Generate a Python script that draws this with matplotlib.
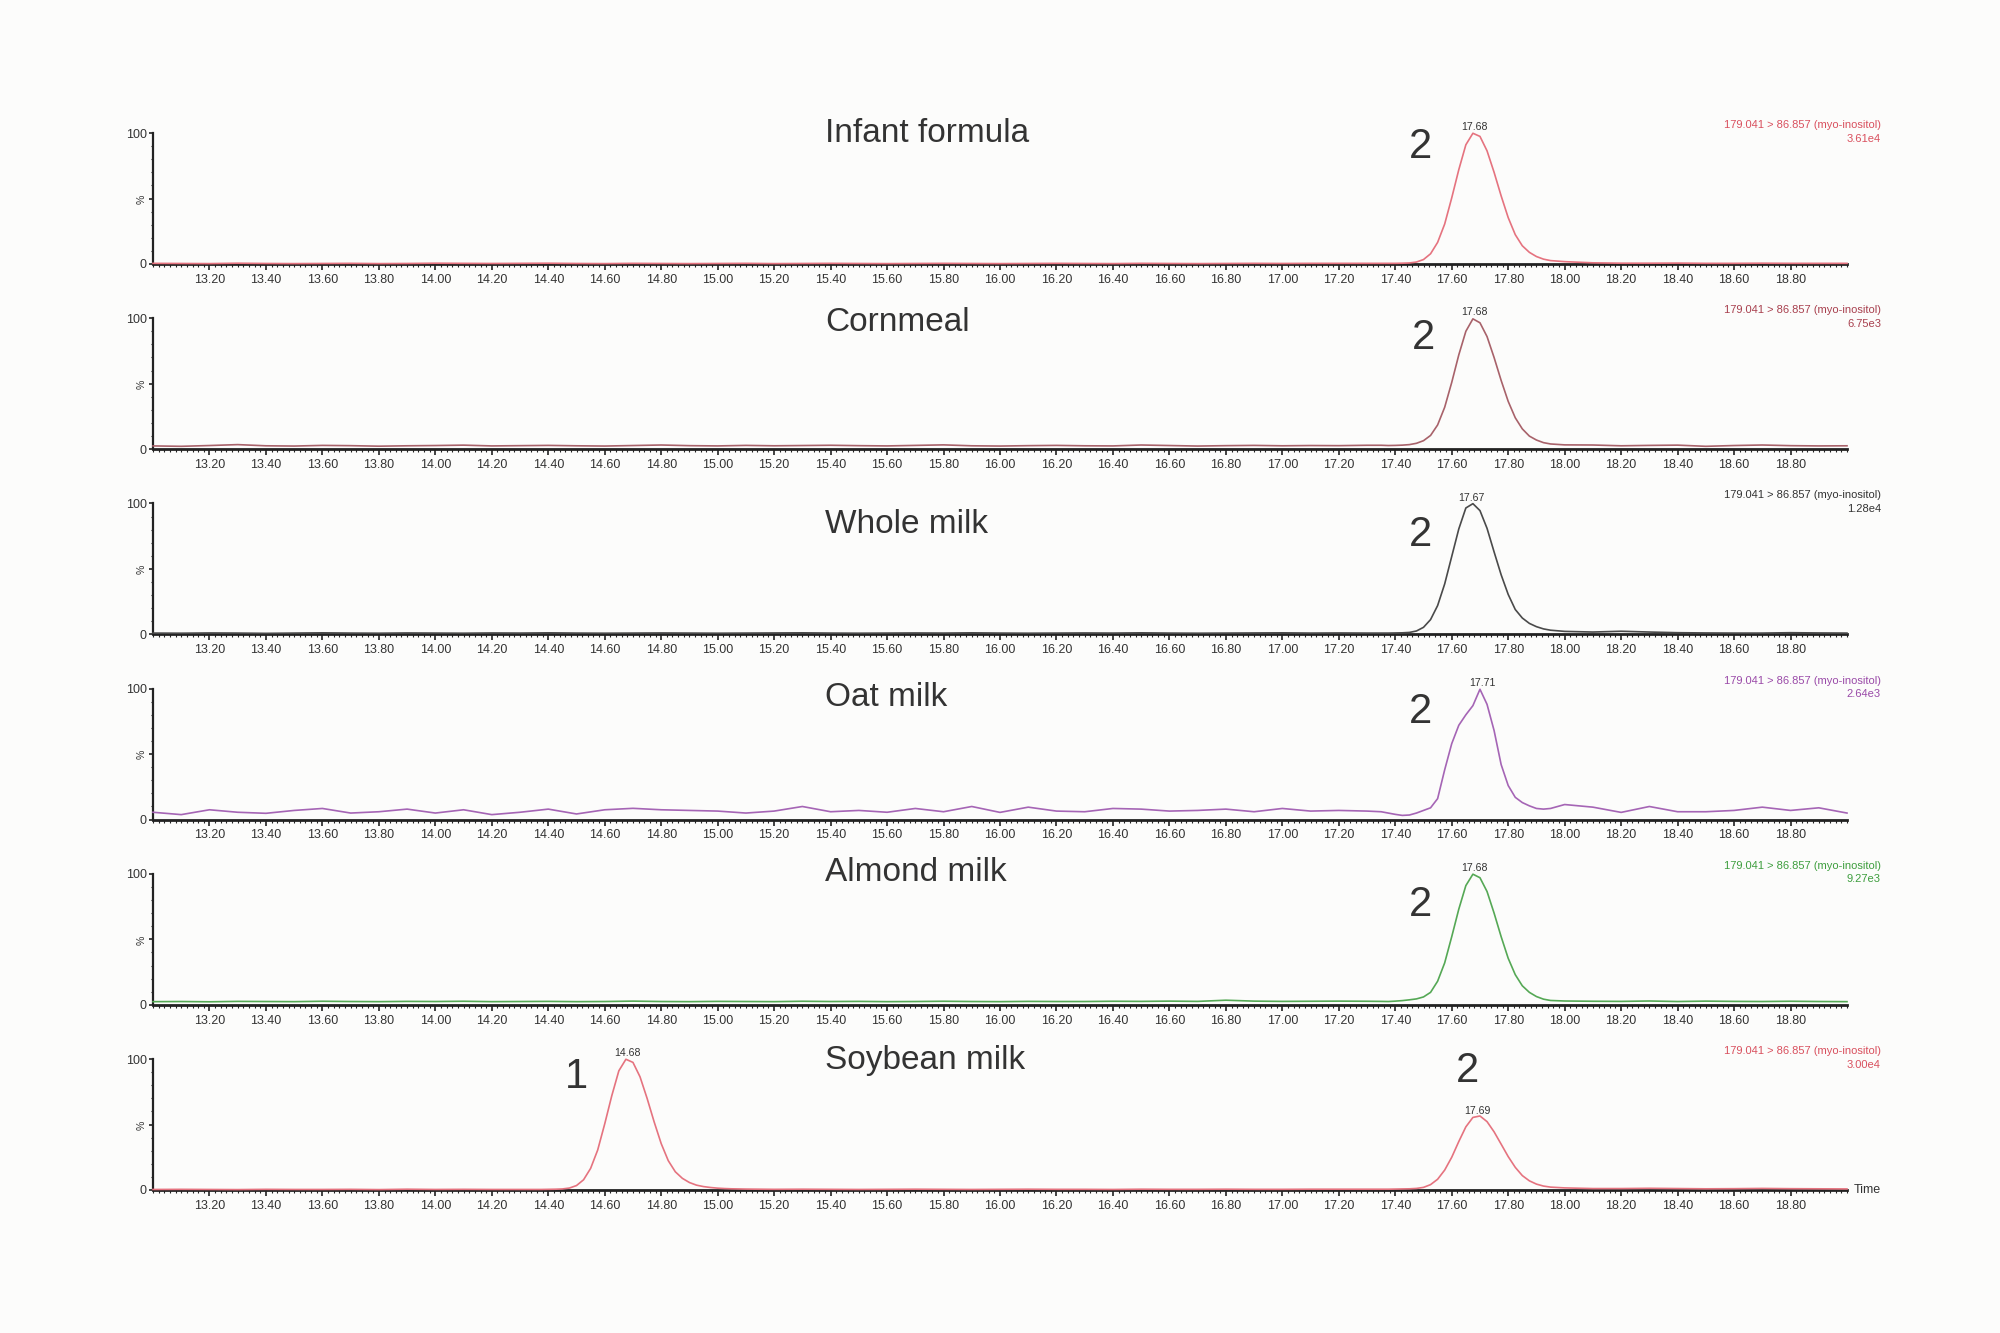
import matplotlib
matplotlib.use('Agg')
import numpy as np
import matplotlib.pyplot as plt
from matplotlib.ticker import MultipleLocator, FixedLocator, FormatStrFormatter

plt.rcParams['font.family'] = ['Liberation Sans', 'DejaVu Sans']

# retention time grid (min)
t_base = [13.0, 13.1, 13.2, 13.3, 13.4, 13.5, 13.6, 13.7, 13.8, 13.9,
          14.0, 14.1, 14.2, 14.3, 14.4, 14.5, 14.6, 14.7, 14.8, 14.9,
          15.0, 15.1, 15.2, 15.3, 15.4, 15.5, 15.6, 15.7, 15.8, 15.9,
          16.0, 16.1, 16.2, 16.3, 16.4, 16.5, 16.6, 16.7, 16.8, 16.9,
          17.0, 17.1, 17.2, 17.3]
t_peak = [17.35, 17.375, 17.4, 17.425, 17.45, 17.475, 17.5, 17.525, 17.55, 17.575,
          17.6, 17.625, 17.65, 17.675, 17.7, 17.725, 17.75, 17.775, 17.8, 17.825,
          17.85, 17.875, 17.9, 17.925, 17.95]
t_tail = [18.0, 18.1, 18.2, 18.3, 18.4, 18.5, 18.6, 18.7, 18.8, 18.9, 19.0]
t_std = t_base + t_peak + t_tail

t_soy_a = [13.0, 13.1, 13.2, 13.3, 13.4, 13.5, 13.6, 13.7, 13.8, 13.9, 14.0, 14.1, 14.2, 14.3]
t_soy_p1 = [14.35, 14.375, 14.4, 14.425, 14.45, 14.475, 14.5, 14.525, 14.55, 14.575,
            14.6, 14.625, 14.65, 14.675, 14.7, 14.725, 14.75, 14.775, 14.8, 14.825,
            14.85, 14.875, 14.9, 14.925, 14.95, 14.975, 15.0, 15.025, 15.05]
t_soy_mid = [15.1, 15.2, 15.3, 15.4, 15.5, 15.6, 15.7, 15.8, 15.9, 16.0,
             16.1, 16.2, 16.3, 16.4, 16.5, 16.6, 16.7, 16.8, 16.9, 17.0,
             17.1, 17.2, 17.3]
t_soy = t_soy_a + t_soy_p1 + t_soy_mid + t_peak + t_tail

# relative intensity (%)
infant_y = ([0.5, 0.4, 0.3, 0.6, 0.4, 0.3, 0.4, 0.5, 0.3, 0.4,
             0.6, 0.5, 0.4, 0.5, 0.6, 0.4, 0.3, 0.5, 0.4, 0.3,
             0.4, 0.5, 0.3, 0.4, 0.5, 0.4, 0.3, 0.4, 0.5, 0.4,
             0.3, 0.4, 0.5, 0.4, 0.3, 0.5, 0.4, 0.3, 0.4, 0.5,
             0.4, 0.5, 0.5, 0.5]
            + [0.5, 0.5, 0.5, 0.6, 0.8, 1.5, 3.4, 7.8, 16.5, 30.5,
               50.5, 72, 91, 99.8, 97.4, 86.4, 70, 52, 35.4, 22.4,
               13.9, 8.9, 5.7, 3.7, 2.6]
            + [1.8, 0.9, 0.6, 0.6, 0.7, 0.5, 0.5, 0.6, 0.5, 0.5, 0.5])

cornmeal_y = ([2.5, 2.2, 2.8, 3.5, 2.6, 2.4, 2.9, 2.7, 2.3, 2.6,
               2.8, 3.1, 2.5, 2.7, 2.9, 2.6, 2.4, 2.8, 3.2, 2.7,
               2.5, 2.9, 2.6, 2.8, 3.0, 2.7, 2.5, 2.9, 3.3, 2.6,
               2.4, 2.7, 2.9, 2.6, 2.5, 3.2, 2.8, 2.4, 2.7, 2.9,
               2.6, 2.8, 2.7, 3.0]
              + [3.0, 2.8, 2.9, 3.1, 3.5, 4.5, 6.5, 10.5, 18.5, 32,
                 51, 72, 90, 99.5, 96.5, 86, 70, 52.5, 36.5, 24,
                 15.5, 10, 7, 5, 4]
              + [3.3, 3.2, 2.6, 2.9, 3.1, 2.2, 2.8, 3.2, 2.7, 2.5, 2.6])

whole_y = ([1.0, 0.9, 1.1, 1.0, 0.8, 1.0, 1.2, 1.0, 0.9, 1.1,
            1.0, 0.9, 1.1, 1.0, 1.2, 1.0, 0.9, 1.0, 1.1, 1.0,
            0.9, 1.0, 1.1, 1.2, 1.0, 0.9, 1.0, 1.1, 1.0, 1.2,
            1.0, 0.9, 1.0, 1.1, 1.0, 1.2, 1.0, 0.9, 1.0, 1.1,
            1.2, 1.0, 1.1, 1.0]
           + [1.0, 1.0, 1.1, 1.2, 1.5, 2.6, 5.4, 11.3, 22, 38.5,
              59.5, 80.5, 96.5, 99.8, 94.5, 81, 63, 45.5, 30.5, 19,
              12.5, 8.4, 5.9, 4.2, 3.2]
           + [2.3, 1.8, 2.4, 1.8, 1.3, 1.1, 1.0, 1.0, 1.3, 1.1, 1.0])

oat_y = ([5.6, 3.8, 7.5, 5.6, 4.8, 7.0, 8.5, 5.0, 6.0, 8.0,
          5.0, 7.5, 3.8, 5.6, 8.0, 4.3, 7.5, 8.6, 7.5, 7.0,
          6.5, 5.0, 6.5, 10.0, 6.0, 7.0, 5.6, 8.5, 6.0, 10.0,
          5.5, 9.5, 6.5, 6.0, 8.5, 8.0, 6.5, 7.0, 8.0, 6.0,
          8.5, 6.5, 7.0, 6.5]
         + [6.0, 5.0, 4.0, 3.2, 3.5, 5.0, 7.0, 9.0, 16, 38,
            58, 72, 80, 87, 99.5, 88, 68, 42, 26, 17,
            13, 10.5, 8.5, 8.0, 8.5]
         + [11.5, 9.5, 5.5, 10.0, 6.0, 6.0, 7.0, 9.5, 7.0, 9.0, 5.0])

almond_y = ([2.4, 2.5, 2.3, 2.6, 2.5, 2.4, 2.7, 2.5, 2.4, 2.6,
             2.5, 2.7, 2.4, 2.5, 2.6, 2.4, 2.5, 2.8, 2.5, 2.4,
             2.6, 2.5, 2.4, 2.7, 2.5, 2.6, 2.4, 2.5, 2.7, 2.5,
             2.4, 2.6, 2.5, 2.5, 2.7, 2.6, 2.8, 2.6, 3.5, 2.8,
             2.6, 2.7, 2.8, 2.7]
            + [2.6, 2.5, 2.8, 3.2, 3.8, 4.5, 6.0, 9.5, 18, 32,
               52, 73, 91, 99.7, 97, 86.5, 70, 52, 35.5, 23,
               14.5, 9.5, 6.3, 4.3, 3.3]
            + [2.9, 2.7, 2.6, 2.9, 2.5, 2.8, 2.6, 2.5, 2.7, 2.5, 2.4])

soy_y = ([0.4, 0.5, 0.4, 0.3, 0.5, 0.4, 0.4, 0.5, 0.3, 0.6, 0.4, 0.5, 0.4, 0.4]
         + [0.4, 0.4, 0.5, 0.6, 0.8, 1.5, 3.4, 7.8, 16.5, 30.5,
            50.5, 72, 91, 99.8, 97.4, 86.4, 70, 52, 35.4, 22.4,
            13.9, 8.9, 5.7, 3.7, 2.6, 1.9, 1.4, 1.1, 0.9]
         + [0.7, 0.5, 0.6, 0.5, 0.4, 0.5, 0.6, 0.5, 0.4, 0.5,
            0.6, 0.5, 0.5, 0.4, 0.6, 0.5, 0.5, 0.6, 0.5, 0.5,
            0.6, 0.6, 0.6]
         + [0.6, 0.6, 0.7, 0.8, 0.9, 1.2, 2.0, 4.1, 8.2, 15.2,
            25, 37, 48.2, 55.4, 56.5, 52.2, 44.4, 35, 25.5, 17.3,
            11, 7, 4.5, 3.0, 2.2]
         + [1.6, 1.1, 1.1, 1.3, 1.1, 0.9, 1.0, 1.2, 1.0, 0.9, 0.8])

times = [t_std, t_std, t_std, t_std, t_std, t_soy]
traces = [infant_y, cornmeal_y, whole_y, oat_y, almond_y, soy_y]
titles = ['Infant formula', 'Cornmeal', 'Whole milk', 'Oat milk', 'Almond milk', 'Soybean milk']
title_y = [100, 97, 84, 93, 101, 99]
scales = ['3.61e4', '6.75e3', '1.28e4', '2.64e3', '9.27e3', '3.00e4']
transition = '179.041 > 86.857 (myo-inositol)'
line_colors = ['#e5737f', '#a8626a', '#4a4a4a', '#a565b5', '#55a855', '#e5737f']
text_colors = ['#d9505e', '#a8404e', '#333333', '#9a4aa8', '#3e9e3e', '#d9505e']

# peak retention-time labels: (text, rt, height)
peak_rt = [[('17.68', 17.68, 100)],
           [('17.68', 17.68, 100)],
           [('17.67', 17.67, 100)],
           [('17.71', 17.71, 100)],
           [('17.68', 17.68, 100)],
           [('14.68', 14.68, 100), ('17.69', 17.69, 56)]]
# compound numbers: (text, x, y)
peak_num = [[('2', 17.49, 89)],
            [('2', 17.50, 85)],
            [('2', 17.49, 76)],
            [('2', 17.49, 82)],
            [('2', 17.49, 76)],
            [('1', 14.50, 86), ('2', 17.655, 91)]]

fig = plt.figure(figsize=(10, 6.665), dpi=200, facecolor='#fcfcfb')

W, H = 2000.0, 1333.0
for i in range(6):
    top = 133 + 185.2 * i
    ax = fig.add_axes([153 / W, 1 - (top + 131) / H, 1694 / W, 131 / H])
    ax.set_facecolor('none')
    ax.plot(times[i], traces[i], color=line_colors[i], lw=0.6, clip_on=False, zorder=3)
    ax.set_xlim(13.0, 19.0)
    ax.set_ylim(0, 100)

    for s in ['top', 'right']:
        ax.spines[s].set_visible(False)
    ax.spines['left'].set_linewidth(0.8)
    ax.spines['bottom'].set_linewidth(1.0)
    ax.spines['left'].set_color('#222222')
    ax.spines['bottom'].set_color('#222222')

    ax.xaxis.set_major_locator(FixedLocator(np.arange(13.2, 18.81, 0.2)))
    ax.xaxis.set_major_formatter(FormatStrFormatter('%.2f'))
    ax.xaxis.set_minor_locator(MultipleLocator(0.02))
    ax.tick_params(axis='x', which='major', length=2.0, width=0.6, pad=1.5,
                   labelsize=4.5, labelcolor='#333333', color='#222222')
    ax.tick_params(axis='x', which='minor', length=1.0, width=0.4, color='#222222')

    ax.set_yticks([0, 50, 100])
    ax.set_yticklabels(['0', '%', '100'])
    ax.yaxis.set_minor_locator(MultipleLocator(10))
    ax.tick_params(axis='y', which='major', length=1.6, width=0.6, pad=0.6,
                   labelsize=4.5, labelcolor='#333333', color='#222222')
    ax.tick_params(axis='y', which='minor', length=0.8, width=0.4, color='#222222')
    ax.get_yticklabels()[1].set_rotation(90)
    ax.get_yticklabels()[1].set_fontsize(3.8)

    ax.text(15.38, title_y[i], titles[i], fontsize=12, color='#333333',
            ha='left', va='center')
    ax.text(1.02, 1.061, transition, transform=ax.transAxes, fontsize=4,
            color=text_colors[i], ha='right', va='center')
    ax.text(1.02, 0.957, scales[i], transform=ax.transAxes, fontsize=4,
            color=text_colors[i], ha='right', va='center')

    for lab, rt, h in peak_rt[i]:
        ax.text(rt, h + 4.5, lab, fontsize=3.8, color='#333333',
                ha='center', va='center', clip_on=False)
    for lab, x, y in peak_num[i]:
        ax.text(x, y, lab, fontsize=15, color='#333333',
                ha='center', va='center', clip_on=False)

    if i == 5:
        ax.text(1.004, 0, 'Time', transform=ax.transAxes, fontsize=4.5,
                color='#333333', ha='left', va='center')

fig.savefig('out.png', dpi=200, facecolor=fig.get_facecolor())
